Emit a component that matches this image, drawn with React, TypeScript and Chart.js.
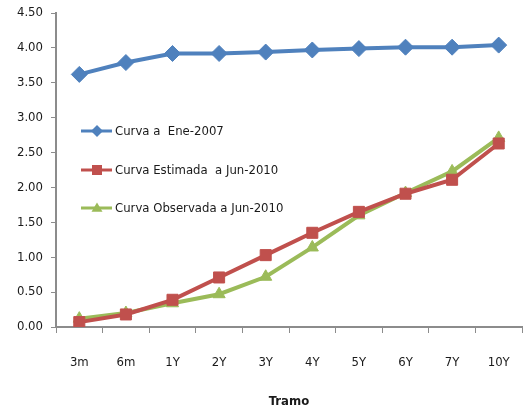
import React, { useEffect, useRef } from "react";
import { Chart, registerables } from "chart.js";

Chart.register(...registerables);

const tramos = ["3m", "6m", "1Y", "2Y", "3Y", "4Y", "5Y", "6Y", "7Y", "10Y"];
const curvaEne2007 = [3.62, 3.79, 3.92, 3.92, 3.94, 3.97, 3.99, 4.01, 4.01, 4.04];
const curvaEstimada = [0.07, 0.18, 0.39, 0.71, 1.03, 1.35, 1.65, 1.91, 2.11, 2.63];
const curvaObservada = [0.12, 0.2, 0.34, 0.47, 0.72, 1.14, 1.6, 1.92, 2.23, 2.71];

const FONT = "'DejaVu Sans Condensed', 'Liberation Sans Narrow', Arial, sans-serif";
const AXIS_GRAY = "#8c8c8c";
const TEXT = "#1a1a1a";

function drawMarker(ctx: CanvasRenderingContext2D, style: string, x: number, y: number, size: number, color: string) {
  ctx.save();
  ctx.fillStyle = color;
  ctx.beginPath();
  if (style === "rectRot") {
    ctx.moveTo(x, y - size);
    ctx.lineTo(x + size, y);
    ctx.lineTo(x, y + size);
    ctx.lineTo(x - size, y);
  } else if (style === "rect") {
    ctx.rect(x - size, y - size, size * 2, size * 2);
  } else {
    const h = size * 1.7;
    ctx.moveTo(x, y - h * 0.6);
    ctx.lineTo(x + size, y + h * 0.4);
    ctx.lineTo(x - size, y + h * 0.4);
  }
  ctx.closePath();
  ctx.fill();
  ctx.restore();
}

// Legend drawn inside the plot area, to the left of the curves
const insideLegend = {
  id: "insideLegend",
  afterDraw(chart: any) {
    const { ctx } = chart;
    const x0 = 81;
    const rows = [131, 170, 208];
    const sizes = [6, 5, 5.5];
    chart.data.datasets.forEach((ds: any, i: number) => {
      const y = rows[i];
      ctx.save();
      ctx.strokeStyle = ds.borderColor;
      ctx.lineWidth = 3;
      ctx.beginPath();
      ctx.moveTo(x0, y);
      ctx.lineTo(x0 + 31, y);
      ctx.stroke();
      ctx.restore();
      drawMarker(ctx, ds.pointStyle, x0 + 16, y, sizes[i], ds.borderColor);
      ctx.save();
      ctx.fillStyle = TEXT;
      ctx.font = `13px ${FONT}`;
      ctx.textBaseline = "middle";
      ctx.textAlign = "left";
      ctx.fillText(ds.label, x0 + 34, y + 1);
      ctx.restore();
    });
  },
};

export default function App() {
  const ref = useRef<HTMLCanvasElement | null>(null);

  useEffect(() => {
    if (!ref.current) return;
    const chart = new Chart(ref.current, {
      type: "line",
      data: {
        labels: tramos,
        datasets: [
          {
            label: "Curva a  Ene-2007",
            data: curvaEne2007,
            borderColor: "#4F81BD",
            backgroundColor: "#4F81BD",
            borderWidth: 4,
            pointStyle: "rectRot",
            pointRadius: 8,
            pointBorderWidth: 1,
            pointBorderColor: "#4F81BD",
            tension: 0,
          },
          {
            label: "Curva Estimada  a Jun-2010",
            data: curvaEstimada,
            borderColor: "#C0504D",
            backgroundColor: "#C0504D",
            borderWidth: 4,
            pointStyle: "rect",
            pointRadius: 7.8,
            pointBorderWidth: 1,
            pointBorderColor: "#C0504D",
            tension: 0,
          },
          {
            label: "Curva Observada a Jun-2010",
            data: curvaObservada,
            borderColor: "#9BBB59",
            backgroundColor: "#9BBB59",
            borderWidth: 4,
            pointStyle: "triangle",
            pointRadius: 7,
            pointBorderWidth: 1,
            pointBorderColor: "#9BBB59",
            tension: 0,
          },
        ],
      },
      options: {
        animation: false,
        responsive: false,
        layout: { autoPadding: false, padding: { top: 13, right: 4, left: 0, bottom: 0 } },
        plugins: {
          legend: { display: false },
          tooltip: { enabled: false },
        },
        scales: {
          x: {
            offset: true,
            grid: {
              offset: true,
              drawOnChartArea: false,
              drawTicks: true,
              tickLength: 6,
              color: AXIS_GRAY,
              lineWidth: 1,
            },
            border: { color: AXIS_GRAY, width: 2 },
            ticks: {
              color: TEXT,
              font: { family: FONT, size: 13 },
              padding: 22,
              maxRotation: 0,
            },
            title: {
              display: true,
              text: "Tramo",
              color: TEXT,
              font: { family: FONT, size: 13, weight: "bold" },
              padding: { top: 20, bottom: 8 },
            },
            afterFit(scale: any) {
              scale.height = 90;
              scale.paddingLeft = 0;
              scale.paddingRight = 0;
            },
          },
          y: {
            min: 0,
            max: 4.5,
            ticks: {
              stepSize: 0.5,
              color: TEXT,
              font: { family: FONT, size: 13 },
              padding: 8,
              callback: (v: any) => Number(v).toFixed(2),
            },
            grid: {
              drawOnChartArea: false,
              drawTicks: true,
              tickLength: 5,
              color: AXIS_GRAY,
            },
            border: { color: AXIS_GRAY, width: 2 },
            afterFit(scale: any) {
              scale.width = 56;
              scale.paddingTop = 0;
              scale.paddingBottom = 0;
            },
          },
        },
      },
      plugins: [insideLegend],
    });
    return () => chart.destroy();
  }, []);

  return (
    <div style={{ position: "absolute", left: 0, top: 0, width: 526, height: 417, background: "#fff" }}>
      <canvas ref={ref} width={526} height={417} />
    </div>
  );
}
